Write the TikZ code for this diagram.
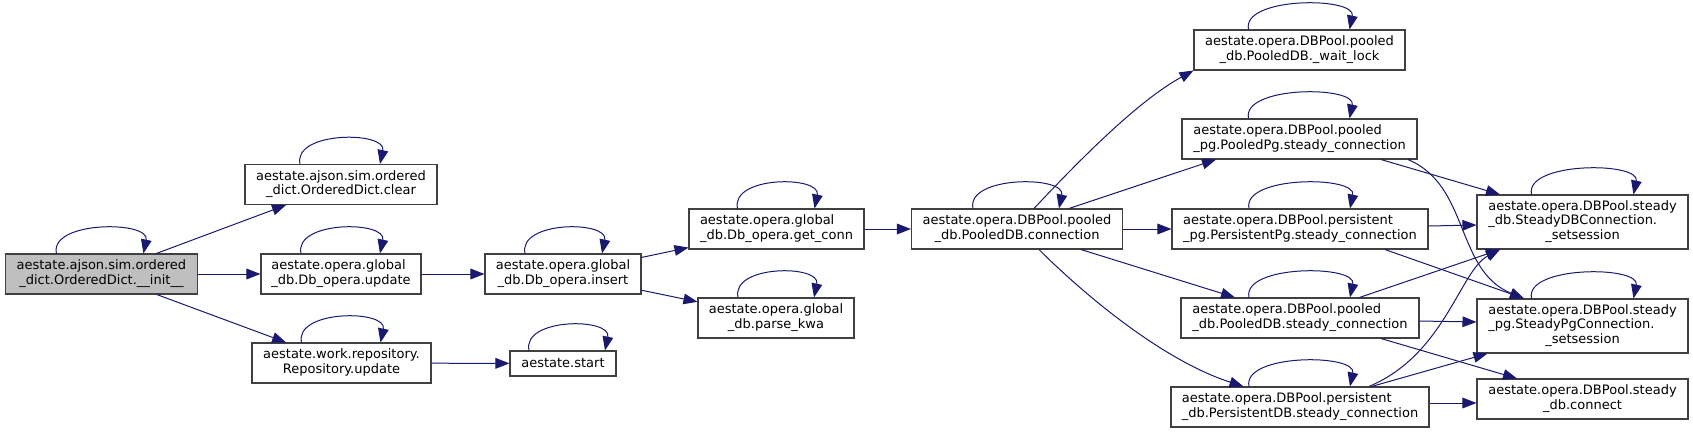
\documentclass[tikz,border=0pt]{standalone}
\usepackage{fontspec}
\setmainfont{DejaVu Sans}
\usepackage{tikz}
\usetikzlibrary{arrows.meta, positioning, calc}
\definecolor{callblue}{HTML}{191970}
\definecolor{boxline}{HTML}{404040}
\definecolor{rootgray}{HTML}{BFBFBF}
\tikzstyle{fn} = [draw=boxline, line width=0.8pt, rectangle, fill=white, inner sep=0pt, minimum height=30pt, text centered, font=\fontsize{9.75}{10.8}\selectfont]
\tikzstyle{root} = [fn, fill=rootgray]
\tikzstyle{call} = [draw=callblue, line width=0.75pt, -{Triangle[length=10.5pt,width=8pt]}, callblue]
% lines left aligned, last line centred
\newcommand{\twoline}[2]{\begin{tabular}{@{}l@{}}#1\\\multicolumn{1}{@{}c@{}}{#2}\end{tabular}}
\newcommand{\threeline}[3]{\begin{tabular}{@{}l@{}}#1\\#2\\\multicolumn{1}{@{}c@{}}{#3}\end{tabular}}

\begin{document}
\begin{tikzpicture}[x=0.75pt, y=-0.75pt]
    \useasboundingbox (0,0) rectangle (1693,433);

    \node (init) [root, minimum width=144pt] at (101.4,274) {\twoline{aestate.ajson.sim.ordered}{\_dict.OrderedDict.\_\_init\_\_}};
    \node (clear) [fn, minimum width=144pt] at (341,184.5) {\twoline{aestate.ajson.sim.ordered}{\_dict.OrderedDict.clear}};
    \node (upd) [fn, minimum width=120pt] at (341,274) {\twoline{aestate.opera.global}{\_db.Db\_opera.update}};
    \node (repo) [fn, minimum width=134.25pt] at (341.5,363) {\twoline{aestate.work.repository.}{Repository.update}};
    \node (insert) [fn, minimum width=117pt] at (563,274) {\twoline{aestate.opera.global}{\_db.Db\_opera.insert}};
    \node (start) [fn, minimum width=79.5pt, minimum height=18.75pt] at (563,363.5) {aestate.start};
    \node (getconn) [fn, minimum width=131.25pt] at (776.5,229) {\twoline{aestate.opera.global}{\_db.Db\_opera.get\_conn}};
    \node (parsekwa) [fn, minimum width=117pt] at (776,318) {\twoline{aestate.opera.global}{\_db.parse\_kwa}};
    \node (conn) [fn, minimum width=158.25pt] at (1017,229) {\twoline{aestate.opera.DBPool.pooled}{\_db.PooledDB.connection}};

    \node (waitlock) [fn, minimum width=158.25pt] at (1299.5,50) {\twoline{aestate.opera.DBPool.pooled}{\_db.PooledDB.\_wait\_lock}};
    \node (pooledpg) [fn, minimum width=176.25pt] at (1299.5,139) {\twoline{aestate.opera.DBPool.pooled}{\_pg.PooledPg.steady\_connection}};
    \node (persistpg) [fn, minimum width=192pt] at (1300,229) {\twoline{aestate.opera.DBPool.persistent}{\_pg.PersistentPg.steady\_connection}};
    \node (pooleddb) [fn, minimum width=178.5pt] at (1300,318) {\twoline{aestate.opera.DBPool.pooled}{\_db.PooledDB.steady\_connection}};
    \node (persistdb) [fn, minimum width=193.5pt] at (1300,407) {\twoline{aestate.opera.DBPool.persistent}{\_db.PersistentDB.steady\_connection}};

    \node (steadydb) [fn, minimum width=158.25pt, minimum height=40.5pt] at (1582.5,222) {\threeline{aestate.opera.DBPool.steady}{\_db.SteadyDBConnection.}{\_setsession}};
    \node (steadypg) [fn, minimum width=158.25pt, minimum height=40.5pt] at (1582.5,326) {\threeline{aestate.opera.DBPool.steady}{\_pg.SteadyPgConnection.}{\_setsession}};
    \node (connect) [fn, minimum width=158.25pt] at (1582.5,399) {\twoline{aestate.opera.DBPool.steady}{\_db.connect}};

    % recursive calls
    \foreach \nm/\a/\b in {init/45/42, clear/41/39, upd/40/39, insert/38/39, repo/40/39, start/34/42, getconn/39/38, parsekwa/38/38, conn/44/42, waitlock/51/50, pooledpg/51/50, persistpg/51/50, pooleddb/51/50, persistdb/51/50, steadydb/51/51, steadypg/51/51}
        \draw [call] ($(\nm.north)+(-\a,0)$) .. controls +(-7,-33) and +(7,-33) .. ($(\nm.north)+(\b,0)$);

    \draw [call] (init) -- (clear);
    \draw [call] (init) -- (upd);
    \draw [call] (init) -- (repo);
    \draw [call] (upd) -- (insert);
    \draw [call] (repo) -- (start);
    \draw [call] (insert) -- (getconn);
    \draw [call] (insert) -- (parsekwa);
    \draw [call] (getconn) -- (conn);

    \draw [call] ($(conn.north)+(17,0)$) .. controls +(46,-49) and +(-55,30) .. (waitlock.south west);
    \draw [call] ($(conn.north)+(52,0)$) -- ($(pooledpg.south)+(-83.5,0)$);
    \draw [call] (conn) -- (persistpg);
    \draw [call] ($(conn.south)+(64,0)$) -- ($(pooleddb.north)+(-65,0)$);
    \draw [call] ($(conn.south)+(22,0)$) .. controls +(41,41) and +(-83.5,-27) .. ($(persistdb.north)+(-56.5,0)$);

    \draw [call] ($(pooledpg.south)+(81.5,0)$) -- ($(steadydb.north)+(-82.5,0)$);
    \draw [call] ($(pooledpg.south)+(108.5,0)$) .. controls +(62,26) and +(-69,-28) .. ($(steadypg.north)+(-58.5,0)$);
    \draw [call] ($(persistpg.east)+(0,-3)$) -- ($(steadydb.west)+(0,3)$);
    \draw [call] ($(persistpg.south)+(85,0)$) -- ($(steadypg.north)+(-58.5,0)$);
    \draw [call] ($(pooleddb.north)+(59.5,0)$) -- ($(steadydb.south)+(-82.5,0)$);
    \draw [call] ($(pooleddb.east)+(0,3)$) -- ($(steadypg.west)+(0,-4)$);
    \draw [call] ($(pooleddb.south)+(81,0)$) -- ($(connect.north)+(-65.5,0)$);
    \draw [call] ($(persistdb.north)+(69,0)$) .. controls +(76,-32) and +(-40,21) .. ($(steadydb.south)+(-82.5,0)$);
    \draw [call] ($(persistdb.north)+(71.6,0)$) -- ($(steadypg.south)+(-95,0)$);
    \draw [call] ($(persistdb.east)+(0,-4)$) -- ($(connect.west)+(0,4)$);
\end{tikzpicture}
\end{document}
